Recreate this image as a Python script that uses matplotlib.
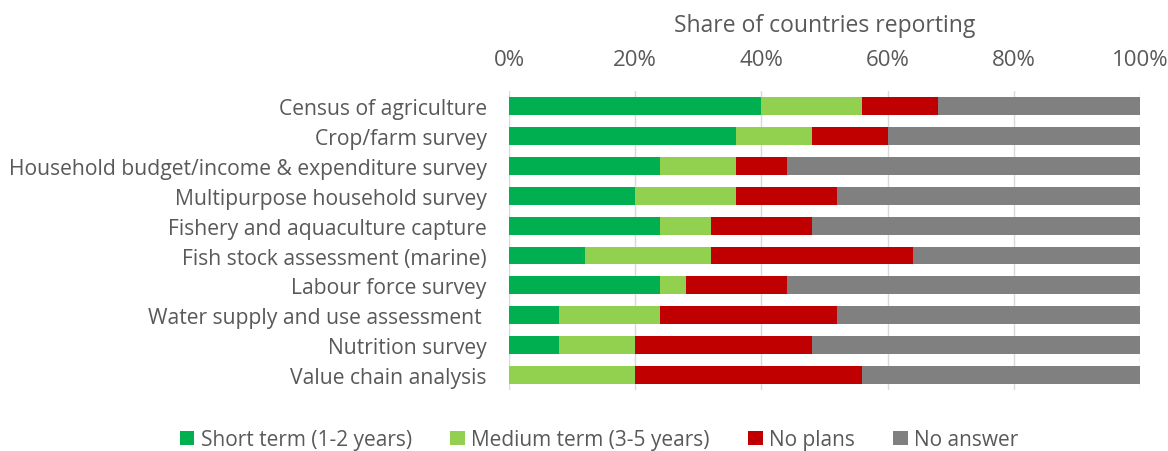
import numpy as np
import matplotlib.pyplot as plt

plt.rcParams['font.family'] = ['Open Sans', 'DejaVu Sans']

categories = ['Census of agriculture', 'Crop/farm survey',
              'Household budget/income & expenditure survey',
              'Multipurpose household survey', 'Fishery and aquaculture capture',
              'Fish stock assessment (marine)', 'Labour force survey',
              'Water supply and use assessment ', 'Nutrition survey',
              'Value chain analysis']
short_term = [40, 36, 24, 20, 24, 12, 24, 8, 8, 0]
medium_term = [16, 12, 12, 16, 8, 20, 4, 16, 12, 20]
no_plans = [12, 12, 8, 16, 16, 32, 16, 28, 28, 36]
no_answer = [32, 40, 56, 48, 52, 36, 56, 48, 52, 44]

series = [('Short term (1-2 years)', short_term, '#00b050'),
          ('Medium term (3-5 years)', medium_term, '#92d050'),
          ('No plans', no_plans, '#c00000'),
          ('No answer', no_answer, '#808080')]

txt = '#595959'
fig = plt.figure(figsize=(11.68, 4.52), dpi=100)
ax = fig.add_axes([0.4358, 0.135, 0.5402, 0.661])

y = np.arange(len(categories))
left = np.zeros(len(categories))
for name, vals, col in series:
    vals = np.array(vals, dtype=float) / 100
    ax.barh(y, vals, left=left, height=0.6, color=col, label=name, zorder=3)
    left += vals

ax.set_xlim(0, 1)
ax.set_ylim(len(categories) - 0.5, -0.5)
ax.set_yticks(y)
ax.set_yticklabels(categories, fontsize=15.2, color=txt)
ax.set_xticks(np.linspace(0, 1, 6))
ax.set_xticklabels(['%d%%' % v for v in range(0, 101, 20)], fontsize=16, color=txt)
ax.xaxis.tick_top()
ax.xaxis.set_label_position('top')
ax.set_xlabel('Share of countries reporting', fontsize=16.5, color=txt, labelpad=13)
ax.tick_params(axis='x', length=0, pad=15)
ax.tick_params(axis='y', length=0, pad=16)
ax.grid(axis='x', color='#d9d9d9', linewidth=1, zorder=0)
for s in ax.spines.values():
    s.set_visible(False)

leg = fig.legend(loc='center', bbox_to_anchor=(0.513, 0.025), ncol=4, frameon=False,
                 fontsize=15, handlelength=0.7, handleheight=0.7, handletextpad=0.3,
                 columnspacing=1.85)
for t in leg.get_texts():
    t.set_color(txt)

fig.savefig('out.png', dpi=100)
